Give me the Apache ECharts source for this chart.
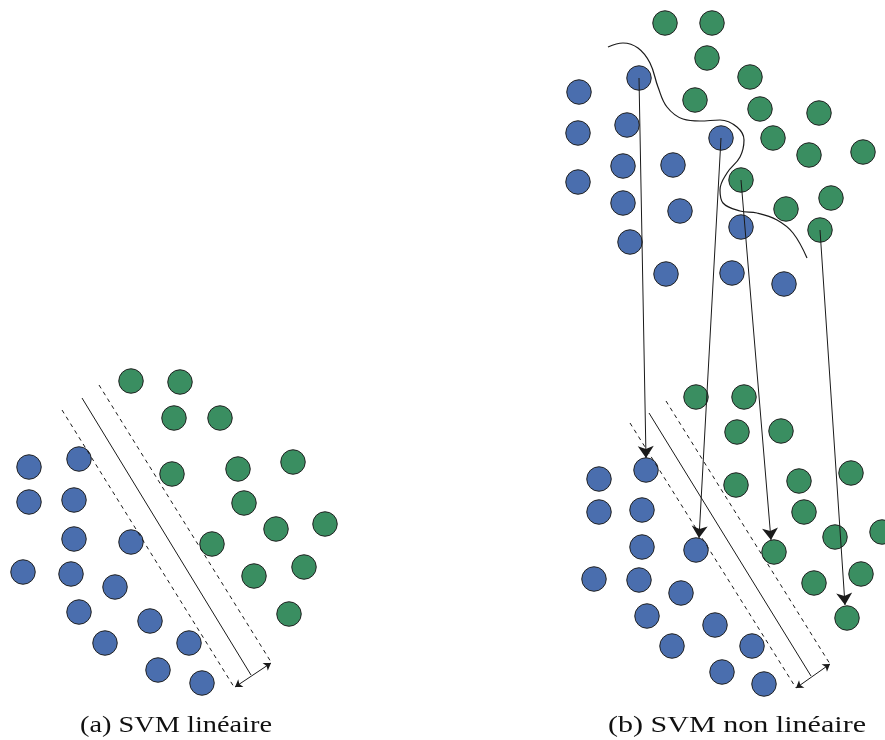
<!DOCTYPE html>
<html>
<head>
<meta charset="utf-8">
<script src="https://cdn.jsdelivr.net/npm/echarts@6/dist/echarts.min.js"></script>
<style>html,body{margin:0;padding:0;background:#fff}#c{width:885px;height:740px}</style>
</head>
<body>
<div id="c"></div>
<script>
// ---- data (in picture coordinates) ----
const captions = ['(a) SVM linéaire', '(b) SVM non linéaire'];

const leftBlue = [[29,467],[79,459],[29,502],[74,500],[74,539],[131,542],[23,572],[71,574],[115,587],[79,612],[150,621],[105,643],[189,643],[158,670],[202,683]];
const leftGreen = [[131,381],[180,382],[174,418],[220,418],[172,474],[238,469],[293,462],[244,503],[276,529],[325,524],[212,544],[254,576],[304,567],[289,614]];

const topBlue = [[579,92],[639,78],[578,133],[627,125],[623,166],[673,165],[578,182],[623,203],[680,211],[630,242],[721,138],[666,274],[732,273],[741,227],[784,284]];
const topGreen = [[665,23],[712,23],[707,58],[750,77],[695,100],[760,109],[819,113],[773,138],[809,155],[863,152],[741,180],[786,209],[831,198],[820,230]];

const botBlue = [[599,479],[646,470],[599,512],[642,510],[642,547],[696,550],[594,579],[639,580],[681,593],[647,616],[715,625],[672,646],[752,646],[722,672],[764,684]];
const botGreen = [[696,397],[744,397],[737,432],[781,431],[736,485],[799,481],[851,473],[804,512],[835,537],[882,532],[774,552],[814,583],[861,574],[847,618]];

const boundary = [[608,47],[623,43],[638,48],[650,63],[658,87],[667,107],[683,119],[700,121],[720,120],[737,127],[744,140],[740,157],[727,173],[720,190],[723,203],[740,211],[757,213],[777,220],[793,233],[807,258]];

const hyperplanes = [[[82,398],[251,675]], [[649,413],[811,676]]];
const margins = [[[62,410],[234,687]], [[99,385],[271,662]], [[630,423],[796,688]], [[666,401],[830,664]]];
const marginWidth = [[[235,687],[271,663]], [[796,688],[830,664]]];
const mapping = [[[639,78],[646,458]], [[721,138],[699,538]], [[741,180],[771,540]], [[820,230],[845,605]]];

// ---- chart ----
const BLUE = '#4a6eae', GREEN = '#3a8e61', INK = '#1a1a1a';
const dot = (data, color) => ({
  type: 'scatter', data, symbolSize: 24.5, z: 2,
  itemStyle: { color, borderColor: '#222', borderWidth: 1, opacity: 1 },
  emphasis: { disabled: true }, silent: true
});
const seg = (list, extra) => Object.assign({
  type: 'lines', coordinateSystem: 'cartesian2d', z: 5, silent: true,
  data: list.map(c => ({ coords: c })),
  symbol: ['none', 'none'],
  lineStyle: { color: INK, width: 1, opacity: 1, curveness: 0 }
}, extra);

// caption layout: Computer-Modern-like width via horizontal scaling
const FONT = 'Liberation Serif', FS = 23;
const mctx = document.createElement('canvas').getContext('2d');
mctx.font = FS + 'px "' + FONT + '"';
const capBox = [{ cx: 176, w: 192 }, { cx: 737, w: 258 }];
const captionGraphics = captions.map((t, i) => ({
  type: 'text', x: capBox[i].cx, y: 726,
  scaleX: capBox[i].w / mctx.measureText(t).width,
  silent: true,
  style: { text: t, fontSize: FS, fontFamily: FONT, fill: '#111', align: 'center', verticalAlign: 'middle' }
}));

const chart = echarts.init(document.getElementById('c'), null, { renderer: 'canvas' });
chart.setOption({
  animation: false,
  backgroundColor: '#fff',
  grid: { left: 0, right: 0, top: 0, bottom: 0 },
  xAxis: { type: 'value', min: 0, max: 885, show: false },
  yAxis: { type: 'value', min: 0, max: 740, inverse: true, show: false },
  graphic: captionGraphics,
  series: [
    dot(leftBlue, BLUE), dot(leftGreen, GREEN),
    dot(topBlue, BLUE), dot(topGreen, GREEN),
    dot(botBlue, BLUE), dot(botGreen, GREEN),
    seg(hyperplanes, {}),
    seg(margins, { lineStyle: { color: INK, width: 1, type: [4, 4], opacity: 1 } }),
    seg(marginWidth, { symbol: ['arrow', 'arrow'], symbolSize: 7 }),
    seg(mapping, { symbol: ['none', 'arrow'], symbolSize: [1, 12] }),
    {
      type: 'line', data: boundary, smooth: 0.4, showSymbol: false, z: 5, silent: true,
      lineStyle: { color: INK, width: 1.2 }
    }
  ]
});
</script>
</body>
</html>
